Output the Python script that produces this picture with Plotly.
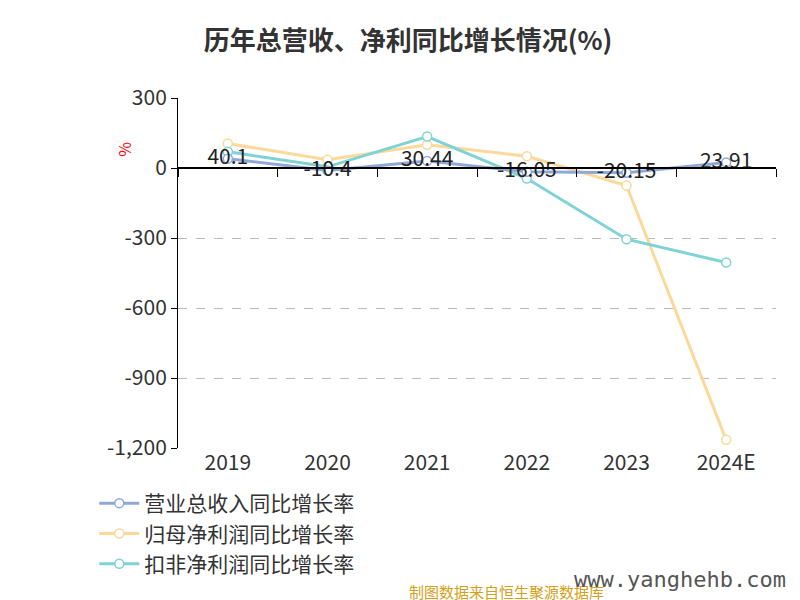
import plotly.graph_objects as go

years = ["2019", "2020", "2021", "2022", "2023", "2024E"]
revenue = [40.1, -10.4, 30.44, -16.05, -20.15, 23.91]
net_profit = [105, 35, 100, 50, -75, -1165]
deducted = [70, 5, 135, -45, -305, -405]
rev_labels = ["40.1", "-10.4", "30.44", "-16.05", "-20.15", "23.91"]

x = list(range(len(years)))
fig = go.Figure()
def add(name, y, color, rank, text=None):
    fig.add_trace(go.Scatter(x=x, y=y, name=name, legendrank=rank,
        mode="lines+markers+text" if text else "lines+markers",
        text=text, textposition="middle center", textfont=dict(size=21, color="#222"),
        line=dict(color=color, width=3),
        marker=dict(size=9, color="white", line=dict(color=color, width=1.5))))
add("归母净利润同比增长率", net_profit, "#fbd99a", 2)
add("扣非净利润同比增长率", deducted, "#7fd3d6", 3)
add("营业总收入同比增长率", revenue, "#8fa8d8", 1, rev_labels)
fig.add_trace(go.Scatter(x=[None], y=[None], xaxis="x2", showlegend=False))

fig.update_layout(
    width=800, height=600, plot_bgcolor="white", paper_bgcolor="white",
    font=dict(family="Noto Sans CJK SC", size=21, color="#333"),
    margin=dict(l=170, r=32, t=90, b=160, autoexpand=False),
    title=dict(text="<b>历年总营收、净利同比增长情况(%)</b>", x=0.5, y=0.96, xanchor="center", font=dict(size=26, color="#333")),
    xaxis=dict(range=[-0.5, 5.5], tickvals=x, ticktext=years, showline=False, showgrid=False, zeroline=False, ticks="", automargin=False),
    xaxis2=dict(overlaying="x", anchor="free", position=0.8, range=[-0.5, 5.5],
                tickvals=[-0.5, 0.5, 1.5, 2.5, 3.5, 4.5, 5.5], showticklabels=False,
                ticks="outside", ticklen=8, tickcolor="#000", showline=True, linecolor="#000", linewidth=1.5, showgrid=False),
    yaxis=dict(range=[-1200, 300], tickvals=[300, 0, -300, -600, -900, -1200], automargin=False,
               ticktext=["300", "0", "-300", "-600", "-900", "-1,200"], showline=True, linecolor="#000",
               ticks="outside", tickcolor="#000", ticklen=6, gridcolor="#bbb", griddash="dash", zeroline=False),
    legend=dict(orientation="h", x=-0.14, y=-0.1, xanchor="left", yanchor="top", font=dict(size=21),
                entrywidth=335, traceorder="normal", itemwidth=40),
)
fig.add_annotation(text="%", xref="paper", yref="paper", x=-0.115, y=0.88, showarrow=False, font=dict(size=16, color="red"), textangle=-90)
fig.add_annotation(text="制图数据来自恒生聚源数据库", xref="paper", yref="paper", x=0.55, y=-0.41, showarrow=False, font=dict(size=15, color="#d4a017"), xanchor="center", yanchor="middle")
fig.add_annotation(text="www.yanghehb.com", xref="paper", yref="paper", x=1.02, y=-0.375, showarrow=False, font=dict(size=22, color="#555", family="DejaVu Sans Mono"), xanchor="right", yanchor="middle")
fig.write_html("out.html")
